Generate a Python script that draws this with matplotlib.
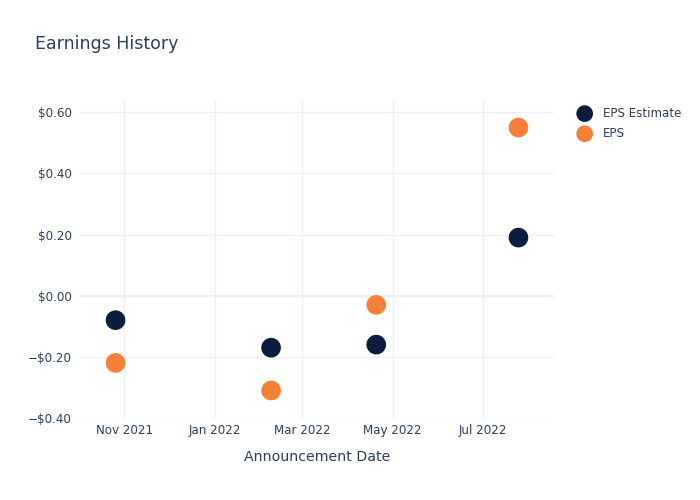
import matplotlib
matplotlib.use("Agg")
import matplotlib.pyplot as plt
import matplotlib.dates as mdates
from matplotlib.ticker import FuncFormatter, MultipleLocator
import numpy as np

# data
dates = np.array(["2021-10-26", "2022-02-08", "2022-04-20", "2022-07-25"], dtype="datetime64[D]")
eps_estimate = [-0.08, -0.17, -0.16, 0.19]
eps_actual = [-0.22, -0.31, -0.03, 0.55]

TEXT = "#2a3f5f"
GRID = "#ebf0f8"
NAVY = "#0b1d3f"
ORANGE = "#f68038"

plt.rcParams['font.family'] = ['DejaVu Sans']

fig = plt.figure(figsize=(7, 5), dpi=100)
ax = fig.add_axes([80 / 700, 82 / 500, 474 / 700, 318 / 500])

ax.scatter(dates, eps_estimate, s=200, color=NAVY, edgecolors='none',
           label="EPS Estimate", zorder=3)
ax.scatter(dates, eps_actual, s=200, color=ORANGE, edgecolors='none',
           label="EPS", zorder=3)

ax.set_xlim(np.datetime64("2021-10-02"), np.datetime64("2022-08-18"))
ax.set_ylim(-0.40, 0.64)

ax.xaxis.set_major_locator(mdates.MonthLocator(bymonth=[1, 3, 5, 7, 11]))
ax.xaxis.set_major_formatter(mdates.DateFormatter("%b %Y"))
ax.yaxis.set_major_locator(MultipleLocator(0.2))


def money(v, pos):
    if abs(v) < 1e-9:
        return "$0.00"
    sign = "\u2212" if v < 0 else ""
    return f"{sign}${abs(v):.2f}"


ax.yaxis.set_major_formatter(FuncFormatter(money))

ax.grid(True, color=GRID, lw=1, zorder=0)
ax.axhline(0, color=GRID, lw=1.6, zorder=1)
for s in ax.spines.values():
    s.set_visible(False)
ax.tick_params(length=0, colors=TEXT, labelsize=8.6)
ax.tick_params(axis='x', pad=4)
ax.tick_params(axis='y', pad=6)

ax.set_xlabel("Announcement Date", color=TEXT, fontsize=10.2, labelpad=10)

fig.text(35 / 700, 1 - 44 / 500, "Earnings History", color=TEXT, fontsize=12.5,
         va='center', ha='left')

leg = fig.legend(loc='upper left', bbox_to_anchor=(562 / 700, 1 - 96 / 500),
                 frameon=False, fontsize=8.6, handletextpad=0.55,
                 labelspacing=0.6, markerscale=0.85)
for t in leg.get_texts():
    t.set_color(TEXT)

fig.savefig("out.png", dpi=100)
